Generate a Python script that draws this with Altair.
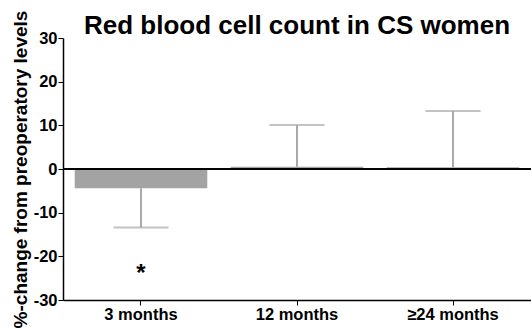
import altair as alt
import pandas as pd

# Mean %-change from preoperatory levels and its error at each follow-up
groups = ["3 months", "12 months", "≥24 months"]
mean_change = [-4.4, 0.5, 0.4]
error = [9.0, 9.6, 12.9]
significant = [True, False, False]
chart_title = "Red blood cell count in CS women"

df = pd.DataFrame({"group": groups, "mean": mean_change, "err": error, "sig": significant})
# error bars point away from zero
df["err_end"] = [m - e if m < 0 else m + e for m, e in zip(df["mean"], df["err"])]

FONT = "Liberation Sans"
GRAY_BAR = "#a3a3a3"
GRAY_ERR = "#a9a9a9"
W, H = 468, 262

x = alt.X(
    "group:N",
    sort=groups,
    title=None,
    scale=alt.Scale(paddingInner=0.15, paddingOuter=0.075),
    axis=alt.Axis(
        labelAngle=0, labelFont=FONT, labelFontWeight="bold", labelFontSize=16.5,
        labelColor="black", domainColor="black", domainWidth=1.5, tickColor="black",
        tickSize=5, labelPadding=1,
    ),
)
yscale = alt.Scale(domain=[-30, 30], nice=False, zero=False)

bars = alt.Chart(df).mark_bar(color=GRAY_BAR).encode(
    x=x,
    y=alt.Y(
        "mean:Q",
        scale=yscale,
        title="%-change from preoperatory levels",
        axis=alt.Axis(
            values=[-30, -20, -10, 0, 10, 20, 30], grid=False,
            labelExpr="'' + datum.value",
            labelFont=FONT, labelFontWeight="bold", labelFontSize=16.5, labelColor="black",
            titleFont=FONT, titleFontWeight="bold", titleFontSize=19, titleColor="black",
            domainColor="black", domainWidth=1.5, tickColor="black", tickSize=5,
            labelPadding=1, titlePadding=3,
        ),
    ),
    y2=alt.datum(0),
)

stems = alt.Chart(df).mark_rule(color=GRAY_ERR, strokeWidth=2).encode(
    x=alt.X("group:N", sort=groups), y="mean:Q", y2="err_end:Q"
)
caps = alt.Chart(df).mark_tick(color=GRAY_ERR, thickness=2, size=55, orient="horizontal").encode(
    x=alt.X("group:N", sort=groups), y="err_end:Q"
)

zero = alt.Chart(df).mark_rule(color="black", strokeWidth=1.5).encode(y=alt.datum(0))

stars = alt.Chart(df[df["sig"]]).mark_text(
    text="*", font=FONT, fontWeight="bold", fontSize=24, baseline="middle", dy=5, color="black"
).encode(x=alt.X("group:N", sort=groups), y=alt.datum(-22.8))

# chart heading, centred over the plot area
heading = alt.Chart(pd.DataFrame({"t": [chart_title]})).mark_text(
    font=FONT, fontWeight="bold", fontSize=26, color="black",
    align="center", baseline="alphabetic",
).encode(text="t:N", x=alt.value(W / 2), y=alt.value(-4))

chart = (
    alt.layer(bars, stems, caps, zero, stars, heading)
    .properties(
        width=W,
        height=H,
        autosize=alt.AutoSizeParams(type="none"),
        padding={"left": 63, "top": 38, "right": 0, "bottom": 30},
    )
    .configure_view(stroke=None)
)

chart.save("out.html", embed_options={"renderer": "svg", "actions": False})
